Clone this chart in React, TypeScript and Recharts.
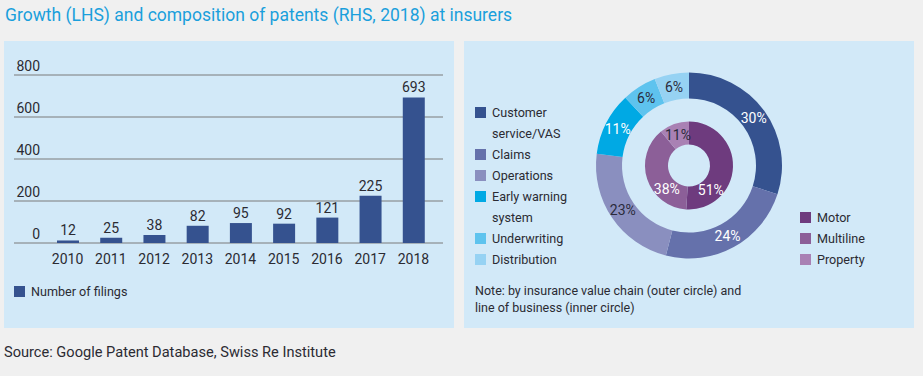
import React from "react";
import { BarChart, Bar, XAxis, YAxis, CartesianGrid, LabelList, PieChart, Pie, Cell } from "recharts";

const years = ["2010", "2011", "2012", "2013", "2014", "2015", "2016", "2017", "2018"];
const filings = [12, 25, 38, 82, 95, 92, 121, 225, 693];
const yTicks = [0, 200, 400, 600, 800];

const chainNames = ["Customer service/VAS", "Claims", "Operations", "Early warning system", "Underwriting", "Distribution"];
const chainLegendLines = [["Customer", "service/VAS"], ["Claims"], ["Operations"], ["Early warning", "system"], ["Underwriting"], ["Distribution"]];
const chainShares = [30, 24, 23, 11, 6, 6];
const chainColors = ["#35528f", "#6571ab", "#8a8fbf", "#00a9e4", "#5ec3ee", "#96d2f3"];
const chainLabelColors = ["#ffffff", "#ffffff", "#2b2b3b", "#ffffff", "#2b2b3b", "#2b2b3b"];

const lobNames = ["Motor", "Multiline", "Property"];
const lobShares = [51, 38, 11];
const lobColors = ["#6e3b7e", "#8c5f98", "#a981b4"];
const lobLabelColors = ["#ffffff", "#ffffff", "#2b2b3b"];
const lobLabelShift = [46, -29, 0];

const barData = years.map((y, i) => ({ year: y, value: filings[i] }));
const chainData = chainNames.map((n, i) => ({ name: n, value: chainShares[i] }));
const lobData = lobNames.map((n, i) => ({ name: n, value: lobShares[i] }));

const FONT = "Roboto, 'Liberation Sans', Arial, sans-serif";
const TEXT = "#2b2b33";
const PANEL = "#d2e9f8";
const RAD = Math.PI / 180;

const YTick = (props: any) => {
  const { y, payload } = props;
  return (
    <text x={36} y={y - 9} textAnchor="end" dominantBaseline="central" fontSize={14} fill={TEXT} fontFamily={FONT}>
      {payload.value}
    </text>
  );
};

const XTick = (props: any) => {
  const { x, y, payload } = props;
  return (
    <text x={x} y={y + 16} textAnchor="middle" dominantBaseline="central" fontSize={14} fill={TEXT} fontFamily={FONT}>
      {payload.value}
    </text>
  );
};

const makeLabel = (colors: string[], shifts: number[] | null) => (props: any) => {
  const { cx, cy, midAngle, innerRadius, outerRadius, index, value } = props;
  const r = (innerRadius + outerRadius) / 2;
  const a = midAngle - (shifts ? shifts[index] : 0);
  const x = cx + r * Math.cos(-a * RAD);
  const y = cy + r * Math.sin(-a * RAD);
  return (
    <text x={x} y={y} textAnchor="middle" dominantBaseline="central" fontSize={14} fill={colors[index]} fontFamily={FONT}>
      {value}%
    </text>
  );
};

const Swatch = ({ color }: { color: string }) => (
  <span style={{ display: "inline-block", width: 11, height: 11, background: color, position: "absolute", left: 0, top: 5 }} />
);

export default function App() {
  return (
    <div style={{ position: "absolute", left: 0, top: 0, width: 923, height: 376, background: "#f0f0f0", fontFamily: FONT, color: TEXT, overflow: "hidden" }}>
      <div style={{ position: "absolute", left: 5, top: 4, fontSize: 17.5, lineHeight: "22px", color: "#1a9fdc", whiteSpace: "nowrap" }}>
        Growth (LHS) and composition of patents (RHS, 2018) at insurers
      </div>

      <div style={{ position: "absolute", left: 4, top: 41, width: 450, height: 287, background: PANEL }}>
        <BarChart width={450} height={287} data={barData} margin={{ top: 34, right: 11, left: 0, bottom: 0 }}>
          <CartesianGrid horizontal vertical={false} stroke="#7a7a7a" strokeWidth={1} />
          <YAxis width={10} domain={[0, 800]} ticks={yTicks} axisLine={false} tickLine={false} tick={YTick} interval={0} />
          <XAxis dataKey="year" height={85} axisLine={false} tickLine={false} tickSize={0} tickMargin={0} tick={XTick} interval={0} padding={{ left: 32, right: 8 }} />
          <Bar dataKey="value" fill="#35528f" barSize={22} isAnimationActive={false}>
            <LabelList dataKey="value" position="top" offset={5} fontSize={14} fill={TEXT} fontFamily={FONT} />
          </Bar>
        </BarChart>
        <div style={{ position: "absolute", left: 10, top: 240, fontSize: 12.6, lineHeight: "21px", paddingLeft: 17, whiteSpace: "nowrap" }}>
          <Swatch color="#35528f" />
          Number of filings
        </div>
      </div>

      <div style={{ position: "absolute", left: 464, top: 41, width: 450, height: 287, background: PANEL }}>
        <PieChart width={450} height={287} margin={{ top: 0, right: 0, left: 0, bottom: 0 }}>
          <Pie data={chainData} dataKey="value" cx={225} cy={124.5} innerRadius={67} outerRadius={93} startAngle={90} endAngle={-270} stroke="none" labelLine={false} label={makeLabel(chainLabelColors, null)} isAnimationActive={false}>
            {chainData.map((d, i) => (
              <Cell key={d.name} fill={chainColors[i]} />
            ))}
          </Pie>
          <Pie data={lobData} dataKey="value" cx={225} cy={124.5} innerRadius={21} outerRadius={44} startAngle={90} endAngle={-270} stroke="none" labelLine={false} label={makeLabel(lobLabelColors, lobLabelShift)} isAnimationActive={false}>
            {lobData.map((d, i) => (
              <Cell key={d.name} fill={lobColors[i]} />
            ))}
          </Pie>
        </PieChart>

        <div style={{ position: "absolute", left: 11, top: 61, fontSize: 12.6, lineHeight: "21px", whiteSpace: "nowrap" }}>
          {chainLegendLines.map((lines, i) => (
            <div key={i} style={{ position: "relative", paddingLeft: 17 }}>
              <Swatch color={chainColors[i]} />
              {lines.map((l, j) => (
                <div key={j}>{l}</div>
              ))}
            </div>
          ))}
        </div>

        <div style={{ position: "absolute", left: 336, top: 166, fontSize: 12.6, lineHeight: "21px", whiteSpace: "nowrap" }}>
          {lobNames.map((n, i) => (
            <div key={n} style={{ position: "relative", paddingLeft: 17 }}>
              <Swatch color={lobColors[i]} />
              {n}
            </div>
          ))}
        </div>

        <div style={{ position: "absolute", left: 11, top: 241, fontSize: 12.5, lineHeight: "17px", whiteSpace: "nowrap" }}>
          <div>Note: by insurance value chain (outer circle) and</div>
          <div>line of business (inner circle)</div>
        </div>
      </div>

      <div style={{ position: "absolute", left: 4, top: 343, fontSize: 14.6, lineHeight: "18px", whiteSpace: "nowrap" }}>
        Source: Google Patent Database, Swiss Re Institute
      </div>
    </div>
  );
}
